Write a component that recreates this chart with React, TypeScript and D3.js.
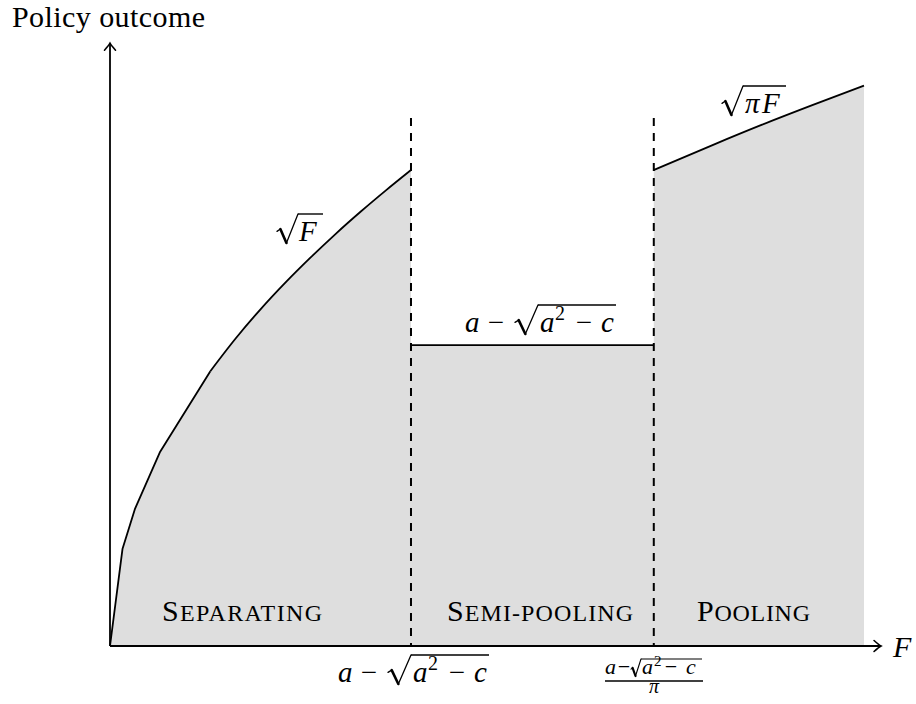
import React from "react";
import * as d3 from "d3";

// Regime thresholds on the F axis
const separatingEnd = 3.0;
const poolingStart = 5.42;
const fMax = 7.515;
const axisMaxF = 7.7;
const axisMaxY = 2.19;

// Separating regime: outcome = sqrt(F)
const separatingF = [0, 0.125, 0.25, 0.5, 1.0, 1.25, 1.5, 1.75, 2.0, 2.25, 2.5, 2.75, 3.0];
const separatingY = [0, 0.354, 0.5, 0.707, 1.0, 1.118, 1.225, 1.323, 1.414, 1.5, 1.581, 1.658, 1.732];

// Semi-pooling regime: flat outcome a - sqrt(a^2 - c)
const semiPoolingLevel = 1.095;

// Pooling regime: outcome = sqrt(pi F)
const poolingF = [5.42, 6.0, 6.5, 7.0, 7.515];
const poolingY = [1.732, 1.822, 1.897, 1.968, 2.039];

const regionLabels = ["Separating", "Semi-pooling", "Pooling"];

const W = 916;
const H = 704;
const SERIF = "Liberation Serif, DejaVu Serif, Times New Roman, serif";

const x = d3.scaleLinear().domain([0, axisMaxF]).range([110, 110 + axisMaxF * 100.33]);
const y = d3.scaleLinear().domain([0, axisMaxY]).range([646, 646 - axisMaxY * 274.8]);

type P = [number, number];
const sepPts: P[] = separatingF.map((f, i) => [f, separatingY[i]]);
const semiPts: P[] = [
  [separatingEnd, semiPoolingLevel],
  [poolingStart, semiPoolingLevel],
];
const poolPts: P[] = poolingF.map((f, i) => [f, poolingY[i]]);

const line = d3
  .line<P>()
  .x((d) => x(d[0]))
  .y((d) => y(d[1]));
const smoothLine = d3
  .line<P>()
  .x((d) => x(d[0]))
  .y((d) => y(d[1]))
  .curve(d3.curveMonotoneX);
const area = d3
  .area<P>()
  .x((d) => x(d[0]))
  .y0(y(0))
  .y1((d) => y(d[1]));

const fillPts: P[] = [...sepPts, ...semiPts, ...poolPts, [fMax, 0]];

// The low end of the sqrt curve is drawn with straight segments, the rest smooth
const sepCoarse = sepPts.slice(0, 5);
const sepFine = sepPts.slice(4);

// Radical sign: left stub, heavy down-stroke, thin up-stroke to the vinculum
function Radical({ x0, x1, top, bottom, sw = 1.3 }: { x0: number; x1: number; top: number; bottom: number; sw?: number }) {
  const w = x1 - x0;
  const h = bottom - top;
  const p0: P = [x0, top + 0.6 * h];
  const p1: P = [x0 + 0.16 * w, top + 0.52 * h];
  const p2: P = [x0 + 0.45 * w, bottom];
  const p3: P = [x1, top];
  return (
    <g stroke="#000" fill="none" strokeLinecap="round">
      <line x1={p0[0]} y1={p0[1]} x2={p1[0]} y2={p1[1]} strokeWidth={sw} />
      <line x1={p1[0]} y1={p1[1]} x2={p2[0]} y2={p2[1]} strokeWidth={sw * 2} />
      <line x1={p2[0]} y1={p2[1]} x2={p3[0]} y2={p3[1]} strokeWidth={sw} />
    </g>
  );
}

function T({ x: tx, y: ty, size, italic, anchor, len, children }: any) {
  return (
    <text
      x={tx}
      y={ty}
      style={{ fontFamily: SERIF, fontSize: size, fontStyle: italic ? "italic" : "normal" }}
      textAnchor={anchor || "start"}
      textLength={len}
      lengthAdjust={len ? "spacing" : undefined}
      fill="#000"
    >
      {children}
    </text>
  );
}

// a − √(a² − c) in text style, anchored at the left of the first "a" and its baseline
function ThresholdExpr({ ax, by }: { ax: number; by: number }) {
  const s = 29;
  return (
    <g>
      <T x={ax} y={by} size={s} italic>a</T>
      <T x={ax + 31} y={by} size={s} anchor="middle">−</T>
      <Radical x0={ax + 50} x1={ax + 73} top={by - 27} bottom={by + 2} />
      <line x1={ax + 73} x2={ax + 151} y1={by - 27} y2={by - 27} stroke="#000" strokeWidth={1.4} />
      <T x={ax + 75} y={by} size={s} italic>a</T>
      <T x={ax + 90} y={by - 12} size={20}>2</T>
      <T x={ax + 119} y={by} size={s} anchor="middle">−</T>
      <T x={ax + 136} y={by} size={s} italic>c</T>
    </g>
  );
}

function SmallCaps({ x: tx, y: ty, text, len }: { x: number; y: number; text: string; len: number }) {
  const first = text[0].toUpperCase();
  const rest = text.slice(1).toUpperCase();
  return (
    <text x={tx} y={ty} style={{ fontFamily: SERIF }} fill="#000" textLength={len} lengthAdjust="spacing">
      <tspan fontSize={30}>{first}</tspan>
      <tspan fontSize={24}>{rest}</tspan>
    </text>
  );
}

function Arrow({ tx, ty, dir }: { tx: number; ty: number; dir: "right" | "up" }) {
  const d =
    dir === "right"
      ? `M${tx - 7},${ty - 5.5} Q${tx - 2},${ty - 1} ${tx},${ty} Q${tx - 2},${ty + 1} ${tx - 7},${ty + 5.5}`
      : `M${tx - 5.5},${ty + 7} Q${tx - 1},${ty + 2} ${tx},${ty} Q${tx + 1},${ty + 2} ${tx + 5.5},${ty + 7}`;
  return <path d={d} fill="none" stroke="#000" strokeWidth={1.6} strokeLinecap="round" />;
}

export default function App() {
  const x0 = x(0);
  const yBase = y(0);
  const xEnd = x(axisMaxF) - 1.5;
  const yTop = y(axisMaxY) - 1;
  const dashTop = 118;
  const cutoffs = [separatingEnd, poolingStart];

  return (
    <svg width={W} height={H} style={{ position: "fixed", left: 0, top: 0, background: "#fff" }}>
      <rect width={W} height={H} fill="#fff" />
      {/* shaded outcome region */}
      <path d={area(fillPts) || ""} fill="#dedede" stroke="none" />

      {/* outcome curves */}
      <path d={line(sepCoarse) || ""} fill="none" stroke="#000" strokeWidth={1.8} strokeLinejoin="round" />
      <path d={smoothLine(sepFine) || ""} fill="none" stroke="#000" strokeWidth={1.8} />
      <path d={line(semiPts) || ""} fill="none" stroke="#000" strokeWidth={1.8} />
      <path d={smoothLine(poolPts) || ""} fill="none" stroke="#000" strokeWidth={1.8} />

      {/* regime boundaries */}
      {cutoffs.map((c) => (
        <line
          key={c}
          x1={x(c)}
          x2={x(c)}
          y1={dashTop}
          y2={yBase}
          stroke="#000"
          strokeWidth={2}
          strokeDasharray="8 7"
        />
      ))}

      {/* axes */}
      <line x1={x0} x2={xEnd} y1={yBase} y2={yBase} stroke="#000" strokeWidth={1.8} />
      <line x1={x0} x2={x0} y1={yBase} y2={yTop} stroke="#000" strokeWidth={1.8} />
      <Arrow tx={xEnd} ty={yBase} dir="right" />
      <Arrow tx={x0} ty={yTop} dir="up" />

      <T x={12} y={27} size={30} len={193}>Policy outcome</T>
      <T x={893} y={657} size={30} italic>F</T>

      {/* region names */}
      <SmallCaps x={162} y={621} text={regionLabels[0]} len={160} />
      <SmallCaps x={447} y={621} text={regionLabels[1]} len={186} />
      <SmallCaps x={697} y={621} text={regionLabels[2]} len={113} />

      {/* √F */}
      <Radical x0={277} x1={298} top={214} bottom={243} />
      <line x1={298} x2={323} y1={214} y2={214} stroke="#000" strokeWidth={1.4} />
      <T x={299} y={241} size={29} italic>F</T>

      {/* √(πF) */}
      <Radical x0={722} x1={743} top={86} bottom={115} />
      <line x1={743} x2={786} y1={86} y2={86} stroke="#000" strokeWidth={1.4} />
      <T x={745} y={113} size={29} italic>π</T>
      <T x={762} y={113} size={29} italic>F</T>

      {/* semi-pooling level and first threshold */}
      <ThresholdExpr ax={465} by={332} />
      <ThresholdExpr ax={338} by={682} />

      {/* second threshold: (a − √(a² − c)) / π */}
      <g>
        <T x={605} y={674} size={22} italic>a</T>
        <T x={624} y={674} size={22} anchor="middle">−</T>
        <Radical x0={631} x1={641} top={659} bottom={676} sw={1.1} />
        <line x1={641} x2={702} y1={659} y2={659} stroke="#000" strokeWidth={1.1} />
        <T x={642} y={674} size={22} italic>a</T>
        <T x={654} y={666} size={15}>2</T>
        <T x={671} y={674} size={22} anchor="middle">−</T>
        <T x={686} y={674} size={22} italic>c</T>
        <line x1={605} x2={703} y1={681} y2={681} stroke="#000" strokeWidth={1.3} />
        <T x={654} y={693} size={20} italic anchor="middle">π</T>
      </g>
    </svg>
  );
}
